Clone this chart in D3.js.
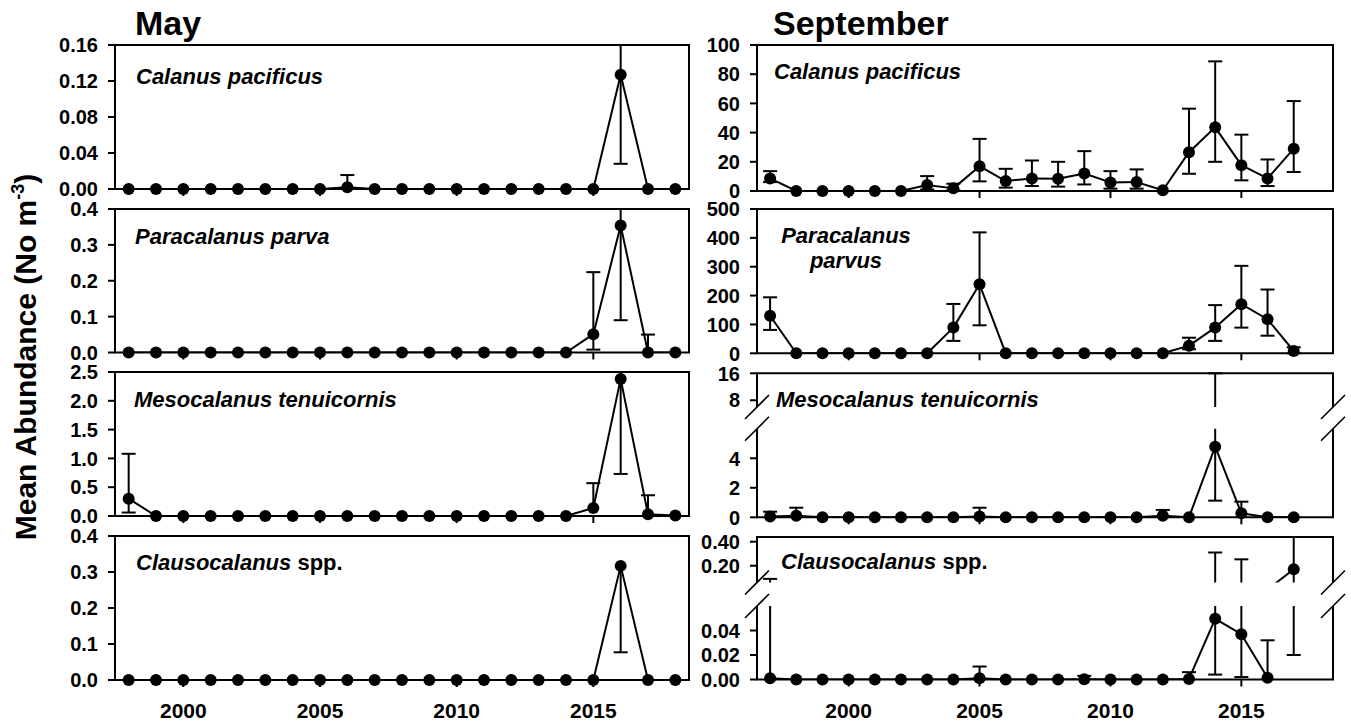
<!DOCTYPE html>
<html>
<head>
<meta charset="utf-8">
<script src="https://cdn.jsdelivr.net/npm/d3@7"></script>
<style>
  body { margin: 0; background: #fff; }
  text { font-family: "Liberation Sans", Arial, sans-serif; font-weight: bold; fill: #000; }
</style>
</head>
<body>
<svg id="chart" width="1351" height="725"></svg>
<script>
// ---- survey years ----
const mayYears = [1998,1999,2000,2001,2002,2003,2004,2005,2006,2007,2008,2009,2010,2011,2012,2013,2014,2015,2016,2017,2018];
const sepYears = [1997,1998,1999,2000,2001,2002,2003,2004,2005,2006,2007,2008,2009,2010,2011,2012,2013,2014,2015,2016,2017];
const yearTicks = [2000, 2005, 2010, 2015];

// ---- May mean abundance (No m-3) with lower / upper error limits (null = no bar) ----
const mayCalanus   = [0,0,0,0,0,0,0,0,0.002,0,0,0,0,0,0,0,0,0,0.127,0,0];
const mayCalanusLo = [null,null,null,null,null,null,null,null,null,null,null,null,null,null,null,null,null,null,0.028,null,null];
const mayCalanusHi = [null,null,null,null,null,null,null,null,0.0155,null,null,null,null,null,null,null,null,null,0.25,null,null];

const mayParacalanus   = [0,0,0,0,0,0,0,0,0,0,0,0,0,0,0,0,0,0.051,0.354,0,0];
const mayParacalanusLo = [null,null,null,null,null,null,null,null,null,null,null,null,null,null,null,null,null,0.008,0.09,null,null];
const mayParacalanusHi = [null,null,null,null,null,null,null,null,null,null,null,null,null,null,null,null,null,0.224,0.6,0.05,null];

const mayMesocalanus   = [0.3,0,0,0,0,0,0,0,0,0,0,0,0,0,0,0,0,0.14,2.38,0.03,0.01];
const mayMesocalanusLo = [0.06,null,null,null,null,null,null,null,null,null,null,null,null,null,null,null,null,null,0.73,null,null];
const mayMesocalanusHi = [1.08,null,null,null,null,null,null,null,null,null,null,null,null,null,null,null,null,0.57,3.6,0.36,null];

const mayClausocalanus   = [0,0,0,0,0,0,0,0,0,0,0,0,0,0,0,0,0,0,0.317,0,0];
const mayClausocalanusLo = [null,null,null,null,null,null,null,null,null,null,null,null,null,null,null,null,null,null,0.077,null,null];
const mayClausocalanusHi = [null,null,null,null,null,null,null,null,null,null,null,null,null,null,null,null,null,null,null,null,null];

// ---- September ----
const sepCalanus   = [8.6,0,0,0,0,0,4.1,1.8,17,6.8,8.6,8.4,12,5.9,6.1,0.5,26.6,43.6,17.7,8.6,29];
const sepCalanusLo = [6.1,null,null,null,null,null,1,0.5,6.6,2.3,3.4,3,4.5,1.6,1.6,null,11.8,20,7.3,3.4,13];
const sepCalanusHi = [13.6,null,null,null,null,null,10.2,5,35.7,15.2,20.9,20,27.3,13.6,14.8,null,56.4,88.8,38.6,21.6,61.6];

const sepParacalanus   = [130,0,0,0,0,0,0,89,239,0,0,0,0,0,0,0,26.5,89,170,118,8];
const sepParacalanusLo = [81,null,null,null,null,null,null,43,97,null,null,null,null,null,null,null,14,43,89,61,0];
const sepParacalanusHi = [194,null,null,null,null,null,null,171,419,null,null,null,null,null,null,null,54,167,303,221,21];

const sepMesocalanus   = [0.05,0.1,0,0,0,0,0,0,0.05,0,0,0,0,0,0,0.1,0,4.79,0.27,0,0];
const sepMesocalanusLo = [null,null,null,null,null,null,null,null,null,null,null,null,null,null,null,null,null,1.13,null,null,null];
const sepMesocalanusHi = [0.38,0.65,null,null,null,null,null,null,0.65,null,null,null,null,null,null,0.5,null,16,1.06,null,null];

const sepClausocalanus   = [0.001,0,0,0,0,0,0,0,0.001,0,0,0,0.0003,0,0,0,0.0005,0.0495,0.037,0.0015,0.17];
const sepClausocalanusLo = [null,null,null,null,null,null,null,null,null,null,null,null,null,null,null,null,null,0.004,0.002,null,0.02];
const sepClausocalanusHi = [0.09,null,null,null,null,null,null,null,0.0106,null,null,null,0.003,null,null,null,0.006,0.31,0.253,0.032,0.6];

// ---- axis tick values and labels ----
const ticksMayCal  = [0, 0.04, 0.08, 0.12, 0.16];
const labelsMayCal = ["0.00", "0.04", "0.08", "0.12", "0.16"];
const ticksMayPar  = [0, 0.1, 0.2, 0.3, 0.4];
const labelsMayPar = ["0.0", "0.1", "0.2", "0.3", "0.4"];
const ticksMayMes  = [0, 0.5, 1, 1.5, 2, 2.5];
const labelsMayMes = ["0.0", "0.5", "1.0", "1.5", "2.0", "2.5"];
const ticksMayCla  = [0, 0.1, 0.2, 0.3, 0.4];
const labelsMayCla = ["0.0", "0.1", "0.2", "0.3", "0.4"];
const ticksSepCal  = [0, 20, 40, 60, 80, 100];
const labelsSepCal = ["0", "20", "40", "60", "80", "100"];
const ticksSepPar  = [0, 100, 200, 300, 400, 500];
const labelsSepPar = ["0", "100", "200", "300", "400", "500"];
const ticksSepMes  = [0, 2, 4, 8, 16];
const labelsSepMes = ["0", "2", "4", "8", "16"];
const ticksSepCla  = [0, 0.02, 0.04, 0.2, 0.4];
const labelsSepCla = ["0.00", "0.02", "0.04", "0.20", "0.40"];

// ---- layout ----
const svg = d3.select("#chart");
const LW = 2, R = 6, CAP = 7, TICK = 7;
const TICK_FONT = 20, NAME_FONT = 22;

const colMay = { x0: 115, x1: 689, dom: [1997.5, 2018.5], years: mayYears };
const colSep = { x0: 757, x1: 1333, dom: [1996.5, 2018.5], years: sepYears };

// each panel: one or two y segments (bottom to top); a gap between segments is an axis break
const panels = [
  { col: colMay, vals: mayCalanus, lo: mayCalanusLo, hi: mayCalanusHi, ticks: ticksMayCal, labels: labelsMayCal,
    segs: [{ d: [0, 0.16], r: [189, 45] }], name: [{ t: "Calanus pacificus", i: true }], nx: 136, ny: 84 },
  { col: colMay, vals: mayParacalanus, lo: mayParacalanusLo, hi: mayParacalanusHi, ticks: ticksMayPar, labels: labelsMayPar,
    segs: [{ d: [0, 0.4], r: [352.5, 209] }], name: [{ t: "Paracalanus parva", i: true }], nx: 135, ny: 244 },
  { col: colMay, vals: mayMesocalanus, lo: mayMesocalanusLo, hi: mayMesocalanusHi, ticks: ticksMayMes, labels: labelsMayMes,
    segs: [{ d: [0, 2.5], r: [516, 372] }], name: [{ t: "Mesocalanus tenuicornis", i: true }], nx: 134, ny: 407 },
  { col: colMay, vals: mayClausocalanus, lo: mayClausocalanusLo, hi: mayClausocalanusHi, ticks: ticksMayCla, labels: labelsMayCla,
    segs: [{ d: [0, 0.4], r: [680, 536] }], name: [{ t: "Clausocalanus", i: true }, { t: " spp.", i: false }], nx: 136, ny: 570, bottom: true },

  { col: colSep, vals: sepCalanus, lo: sepCalanusLo, hi: sepCalanusHi, ticks: ticksSepCal, labels: labelsSepCal,
    segs: [{ d: [0, 100], r: [191, 45] }], name: [{ t: "Calanus pacificus", i: true }], nx: 774, ny: 79 },
  { col: colSep, vals: sepParacalanus, lo: sepParacalanusLo, hi: sepParacalanusHi, ticks: ticksSepPar, labels: labelsSepPar,
    segs: [{ d: [0, 500], r: [353.3, 209] }], lines: ["Paracalanus", "parvus"], nx: 846, ny: 243 },
  { col: colSep, vals: sepMesocalanus, lo: sepMesocalanusLo, hi: sepMesocalanusHi, ticks: ticksSepMes, labels: labelsSepMes,
    segs: [{ d: [0, 6], r: [517.3, 428.8] }, { d: [6, 16], r: [407, 373.3] }],
    name: [{ t: "Mesocalanus tenuicornis", i: true }], nx: 776, ny: 407 },
  { col: colSep, vals: sepClausocalanus, lo: sepClausocalanusLo, hi: sepClausocalanusHi, ticks: ticksSepCla, labels: labelsSepCla,
    segs: [{ d: [0, 0.06], r: [679.5, 606] }, { d: [0.06, 0.44], r: [582.5, 536.9] }],
    name: [{ t: "Clausocalanus", i: true }, { t: " spp.", i: false }], nx: 781, ny: 569, bottom: true }
];

panels.forEach((p, pi) => {
  const g = svg.append("g");
  const x = d3.scaleLinear().domain(p.col.dom).range([p.col.x0, p.col.x1]);
  const segs = p.segs.map(s => ({ ...s, y: d3.scaleLinear().domain(s.d).range(s.r) }));
  const top = segs[segs.length - 1];
  const yTop = top.r[1], yBot = segs[0].r[0];

  // which segment a value belongs to
  const segOf = v => segs.find((s, k) => v <= s.d[1] || k === segs.length - 1);
  const yOf = v => segOf(v).y(v);

  // clip rectangles, one per segment
  segs.forEach((s, k) => {
    s.clip = `clip-${pi}-${k}`;
    svg.append("clipPath").attr("id", s.clip).append("rect")
      .attr("x", p.col.x0 - 20).attr("width", p.col.x1 - p.col.x0 + 40)
      .attr("y", s.r[1]).attr("height", s.r[0] - s.r[1]);
  });

  // frame: top and bottom lines, side edges with gaps at the breaks
  g.append("line").attr("x1", p.col.x0).attr("x2", p.col.x1).attr("y1", yTop).attr("y2", yTop)
    .attr("stroke", "#000").attr("stroke-width", LW).attr("stroke-linecap", "square");
  g.append("line").attr("x1", p.col.x0).attr("x2", p.col.x1).attr("y1", yBot).attr("y2", yBot)
    .attr("stroke", "#000").attr("stroke-width", LW).attr("stroke-linecap", "square");
  segs.forEach(s => {
    [p.col.x0, p.col.x1].forEach(xx => {
      g.append("line").attr("x1", xx).attr("x2", xx).attr("y1", s.r[0]).attr("y2", s.r[1])
        .attr("stroke", "#000").attr("stroke-width", LW);
    });
  });
  // break marks
  for (let k = 0; k < segs.length - 1; k++) {
    [segs[k + 1].r[0], segs[k].r[1]].forEach(yy => {
      [p.col.x0, p.col.x1].forEach(xx => {
        g.append("line").attr("x1", xx - 12).attr("y1", yy + 12).attr("x2", xx + 12).attr("y2", yy - 12)
          .attr("stroke", "#000").attr("stroke-width", 1.6);
      });
    });
  }

  // y ticks and labels
  p.ticks.forEach((tv, k) => {
    const yy = yOf(tv);
    g.append("line").attr("x1", p.col.x0 - TICK).attr("x2", p.col.x0).attr("y1", yy).attr("y2", yy)
      .attr("stroke", "#000").attr("stroke-width", LW);
    g.append("text").attr("x", p.col.x0 - 17).attr("y", yy).attr("dy", "0.36em")
      .attr("text-anchor", "end").attr("font-size", TICK_FONT).text(p.labels[k]);
  });

  // x ticks (and year labels on the bottom row)
  yearTicks.forEach(yr => {
    g.append("line").attr("x1", x(yr)).attr("x2", x(yr)).attr("y1", yBot).attr("y2", yBot + TICK)
      .attr("stroke", "#000").attr("stroke-width", LW);
    if (p.bottom) {
      g.append("text").attr("x", x(yr)).attr("y", 718).attr("text-anchor", "middle")
        .attr("font-size", 21).text(yr);
    }
  });

  // connecting line: each step drawn in the segment holding its larger value
  for (let i = 0; i < p.vals.length - 1; i++) {
    const a = p.vals[i], b = p.vals[i + 1];
    const s = segOf(Math.max(a, b));
    g.append("line").attr("clip-path", `url(#${s.clip})`)
      .attr("x1", x(p.col.years[i])).attr("y1", s.y(a))
      .attr("x2", x(p.col.years[i + 1])).attr("y2", s.y(b))
      .attr("stroke", "#000").attr("stroke-width", LW);
  }

  // error bars
  p.vals.forEach((v, i) => {
    const lo = p.lo[i] == null ? v : p.lo[i];
    const hi = p.hi[i] == null ? v : p.hi[i];
    if (lo === hi) return;
    const xx = x(p.col.years[i]);
    segs.forEach(s => {
      const a = Math.max(lo, s.d[0]), b = Math.min(hi, s.d[1]);
      if (a < b) {
        g.append("line").attr("x1", xx).attr("x2", xx).attr("y1", s.y(a)).attr("y2", s.y(b))
          .attr("stroke", "#000").attr("stroke-width", LW);
      }
    });
    [[lo, lo < v], [hi, hi > v]].forEach(([e, show]) => {
      if (!show) return;
      const s = segs.find(sg => e >= sg.d[0] && e <= sg.d[1]);
      if (!s) return;
      g.append("line").attr("x1", xx - CAP).attr("x2", xx + CAP).attr("y1", s.y(e)).attr("y2", s.y(e))
        .attr("stroke", "#000").attr("stroke-width", LW);
    });
  });

  // points
  g.selectAll("circle.pt").data(p.vals).join("circle").attr("class", "pt")
    .attr("cx", (d, i) => x(p.col.years[i])).attr("cy", d => yOf(d)).attr("r", R).attr("fill", "#000");

  // species name
  if (p.lines) {
    p.lines.forEach((t, k) => {
      g.append("text").attr("x", p.nx).attr("y", p.ny + k * 25).attr("text-anchor", "middle")
        .attr("font-size", NAME_FONT).attr("font-style", "italic").text(t);
    });
  } else {
    const t = g.append("text").attr("x", p.nx).attr("y", p.ny).attr("font-size", NAME_FONT);
    p.name.forEach(part => t.append("tspan").attr("font-style", part.i ? "italic" : "normal").text(part.t));
  }
});

// column titles
svg.append("text").attr("x", 135).attr("y", 35).attr("font-size", 34).text("May");
svg.append("text").attr("x", 773).attr("y", 35).attr("font-size", 34).text("September");

// shared y-axis title
const yt = svg.append("text").attr("transform", "translate(36,357) rotate(-90)")
  .attr("text-anchor", "middle").attr("font-size", 30);
yt.append("tspan").text("Mean Abundance (No m");
yt.append("tspan").attr("font-size", 18).attr("dy", -12).text("-3");
yt.append("tspan").attr("dy", 12).text(")");
</script>
</body>
</html>
